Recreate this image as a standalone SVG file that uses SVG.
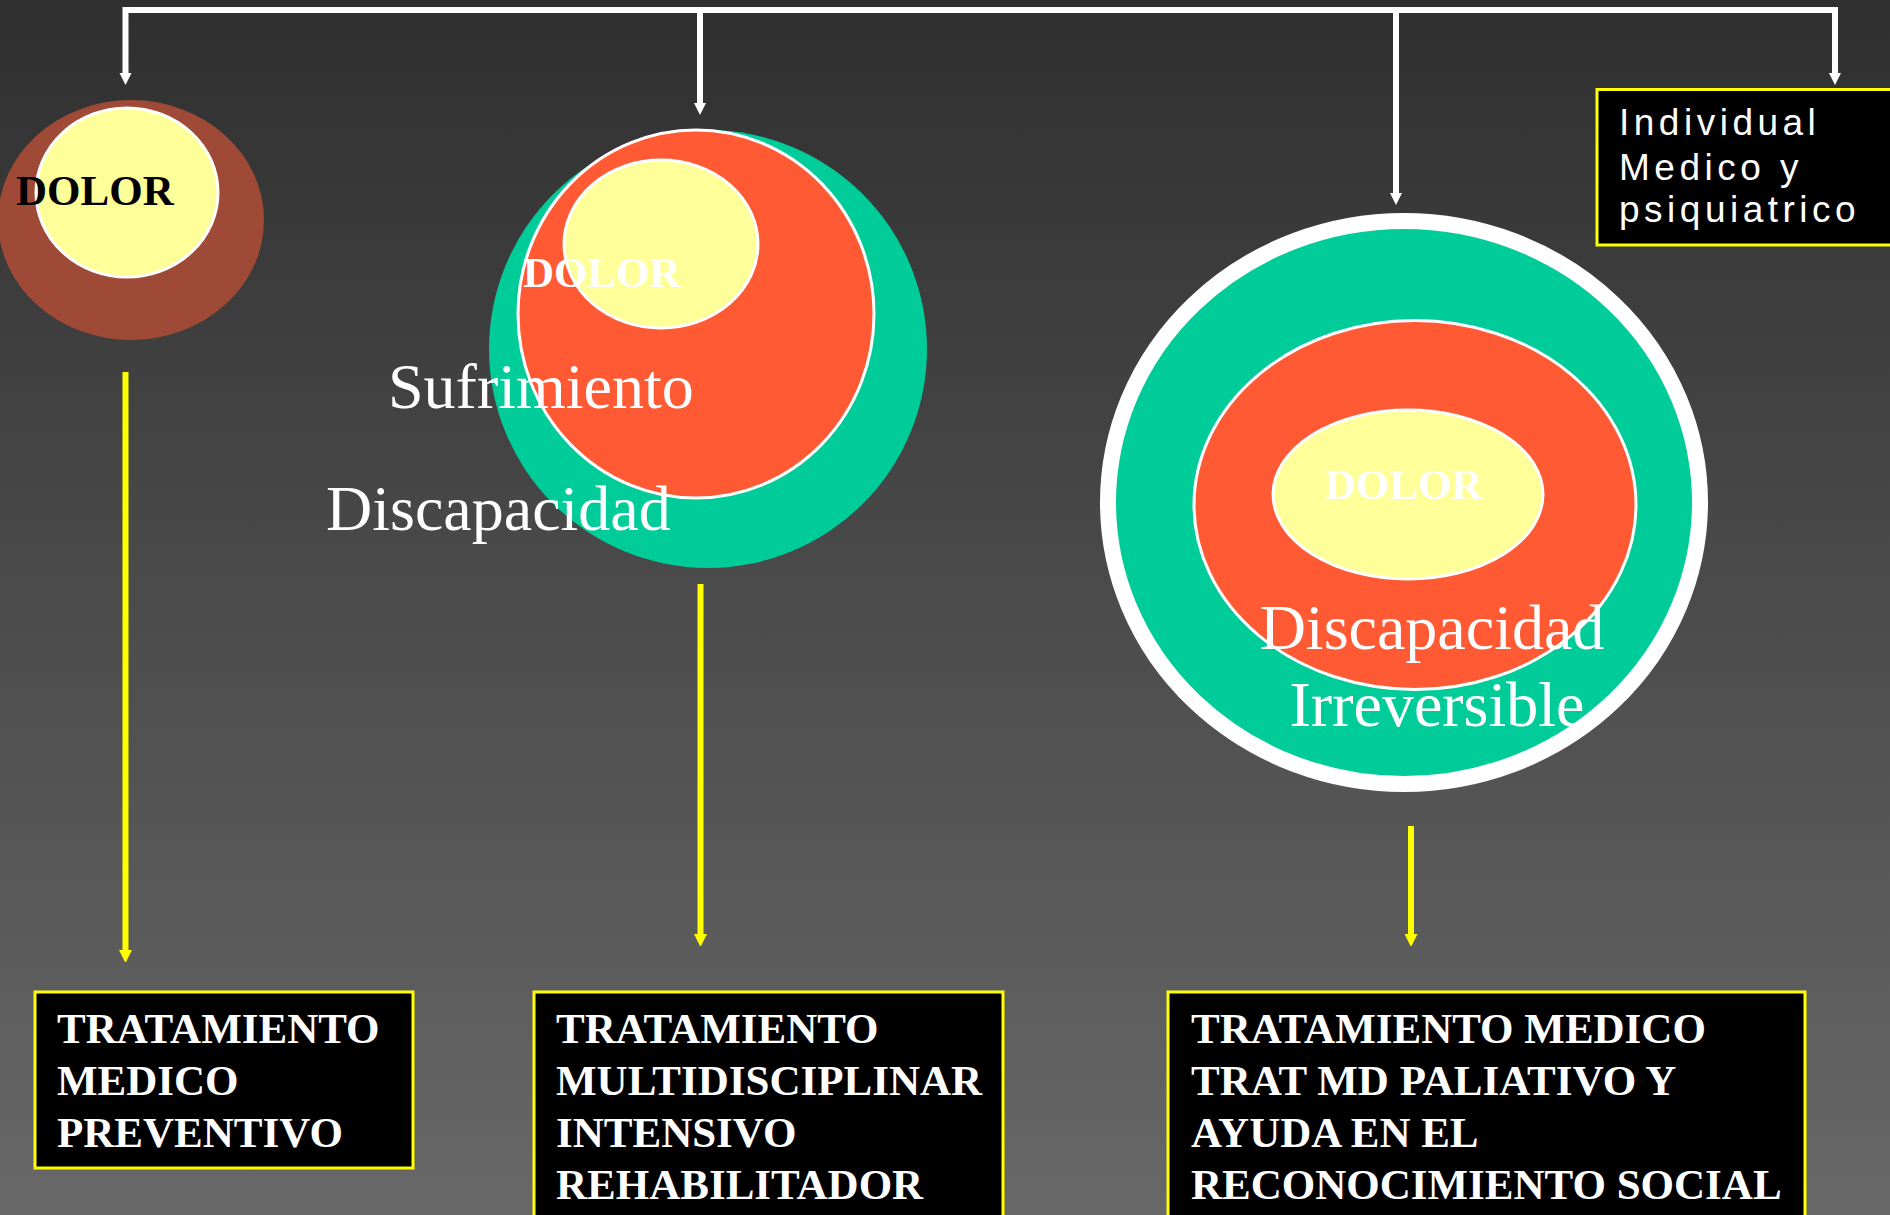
<svg xmlns="http://www.w3.org/2000/svg" width="1890" height="1215" viewBox="0 0 1890 1215">
  <defs>
    <linearGradient id="bg" x1="0" y1="0" x2="0" y2="1">
      <stop offset="0" stop-color="#2f2f2f"/>
      <stop offset="1" stop-color="#686868"/>
    </linearGradient>
    <marker id="ahW" markerUnits="userSpaceOnUse" markerWidth="12" markerHeight="12" refX="0" refY="6" orient="auto">
      <path d="M0,0 L12,6 L0,12 z" fill="#ffffff"/>
    </marker>
    <marker id="ahY" markerUnits="userSpaceOnUse" markerWidth="12" markerHeight="13" refX="0" refY="6.5" orient="auto">
      <path d="M0,0 L13,6.5 L0,13 z" fill="#ffff00"/>
    </marker>
  </defs>
  <style>
    .wline { stroke: #ffffff; stroke-width: 6; fill: none; }
    .yline { stroke: #ffff00; stroke-width: 6; fill: none; }
    .box { fill: #000000; stroke: #ffff00; stroke-width: 3; }
    .btxt { font-family: "Liberation Serif", "Times New Roman", serif; font-weight: bold; font-size: 43px; fill: #ffffff; }
    .dolor { font-family: "Liberation Serif", "Times New Roman", serif; font-weight: bold; font-size: 43px; }
    .big { font-family: "Liberation Serif", "Times New Roman", serif; font-size: 64px; fill: #ffffff; }
    .sans { font-family: "Liberation Sans", Arial, sans-serif; font-size: 37px; fill: #ffffff; letter-spacing: 4.5px; }
    .yel { fill: #ffff99; stroke: #ffffff; stroke-width: 3; }
    .org { fill: #ff5a33; stroke: #ffffff; stroke-width: 3; }
    .grn { fill: #00cc99; }
  </style>
  <rect x="0" y="0" width="1890" height="1215" fill="url(#bg)"/>

  <g id="node-dolor1">
    <ellipse cx="131" cy="220" rx="133" ry="120" fill="#9e4a36"/>
    <ellipse class="yel" cx="127" cy="192.5" rx="91" ry="84.5"/>
    <text class="dolor" x="16" y="205" fill="#000000">DOLOR</text>
  </g>

  <g id="node-sufrimiento">
    <ellipse class="grn" cx="708" cy="349" rx="219" ry="219"/>
    <ellipse class="org" cx="696" cy="314" rx="178" ry="184"/>
    <ellipse class="yel" cx="661" cy="244" rx="97" ry="84"/>
    <text class="dolor" x="523" y="287" fill="#ffffff">DOLOR</text>
    <text class="big" x="388" y="408">Sufrimiento</text>
    <text class="big" x="326" y="530">Discapacidad</text>
  </g>

  <g id="node-irreversible">
    <ellipse cx="1404" cy="502.5" rx="296" ry="281.5" fill="#00cc99" stroke="#ffffff" stroke-width="16"/>
    <ellipse class="org" cx="1415" cy="505" rx="221" ry="184.5"/>
    <ellipse class="yel" cx="1408" cy="494.5" rx="135" ry="84.5"/>
    <text class="dolor" x="1325" y="499" fill="#ffffff">DOLOR</text>
    <text class="big" x="1432" y="649" text-anchor="middle">Discapacidad</text>
    <text class="big" x="1437" y="726" text-anchor="middle">Irreversible</text>
  </g>

  <g id="node-individual">
    <rect class="box" x="1597" y="89.5" width="300" height="155.5"/>
    <text class="sans" x="1619" y="135">Individual</text>
    <text class="sans" x="1619" y="180">Medico y</text>
    <text class="sans" x="1619" y="222">psiquiatrico</text>
  </g>

  <g id="node-preventivo">
    <rect class="box" x="35" y="992" width="378" height="176"/>
    <text class="btxt" x="57" y="1043">TRATAMIENTO</text>
    <text class="btxt" x="57" y="1095">MEDICO</text>
    <text class="btxt" x="57" y="1147">PREVENTIVO</text>
  </g>

  <g id="node-rehabilitador">
    <rect class="box" x="534" y="992" width="469" height="240"/>
    <text class="btxt" x="556" y="1043">TRATAMIENTO</text>
    <text class="btxt" x="556" y="1095">MULTIDISCIPLINAR</text>
    <text class="btxt" x="556" y="1147">INTENSIVO</text>
    <text class="btxt" x="556" y="1199">REHABILITADOR</text>
  </g>

  <g id="node-social">
    <rect class="box" x="1168" y="992" width="637" height="240"/>
    <text class="btxt" x="1191" y="1043">TRATAMIENTO MEDICO</text>
    <text class="btxt" x="1191" y="1095">TRAT MD PALIATIVO Y</text>
    <text class="btxt" x="1191" y="1147">AYUDA EN EL</text>
    <text class="btxt" x="1191" y="1199">RECONOCIMIENTO SOCIAL</text>
  </g>

  <g id="connectors">
    <path class="wline" d="M125.5,73 L125.5,10 L1835,10 L1835,73" marker-end="url(#ahW)" stroke-width="6.5"/>
    <line class="wline" x1="700" y1="10" x2="700" y2="103" marker-end="url(#ahW)"/>
    <line class="wline" x1="1396" y1="10" x2="1396" y2="193" marker-end="url(#ahW)"/>
    <path d="M119.5,73 L131.5,73 L125.5,85 z" fill="#ffffff"/>
    <line class="yline" x1="125.5" y1="372" x2="125.5" y2="950" marker-end="url(#ahY)"/>
    <line class="yline" x1="700.5" y1="584" x2="700.5" y2="934" marker-end="url(#ahY)"/>
    <line class="yline" x1="1411" y1="826" x2="1411" y2="934" marker-end="url(#ahY)"/>
  </g>
</svg>
